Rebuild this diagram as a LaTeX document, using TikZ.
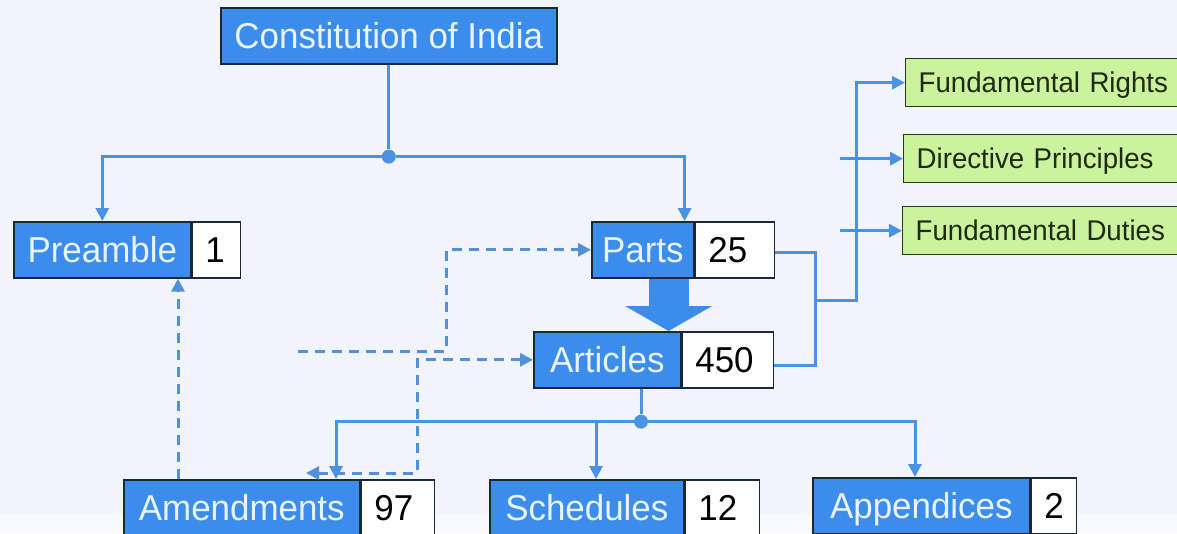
\documentclass[tikz,border=0pt]{standalone}
\usepackage{fontspec}
\newfontfamily\diagfont[FakeStretch=0.97]{Liberation Sans}
\usetikzlibrary{arrows.meta,positioning,calc}
\definecolor{nodeblue}{HTML}{3C8DEB}
\definecolor{nodeedge}{HTML}{1B2838}
\definecolor{lbltext}{HTML}{E8F3FF}
\definecolor{linkblue}{HTML}{4A92E4}
\definecolor{relblue}{HTML}{5290DA}
\definecolor{leafgreen}{HTML}{CBF29D}
\definecolor{leafedge}{HTML}{2A3818}
\definecolor{leaftext}{HTML}{1E2A14}
\definecolor{paper}{HTML}{F1F5FB}

\begin{document}
\begin{tikzpicture}[
  x=1pt, y=-1pt,
  lbl/.style={draw=nodeedge, fill=nodeblue, text=lbltext, line width=1.6pt,
              font=\diagfont\fontsize{36}{40}\selectfont, inner sep=0pt,
              minimum width=#1, minimum height=56pt, anchor=north west,
              text height=27pt, text depth=1pt},
  num/.style={draw=nodeedge, fill=white, text=black, line width=1.6pt,
              font=\diagfont\fontsize{36}{40}\selectfont, inner xsep=13pt,
              inner ysep=0pt, text width=#1, align=left,
              minimum height=56pt, text height=27pt, text depth=1pt},
  leaf/.style={draw=leafedge, fill=leafgreen, text=leaftext, line width=1.4pt,
               font=\diagfont\fontsize{28.5}{31}\selectfont, inner xsep=13pt,
               inner ysep=0pt, text width=250pt, align=left,
               minimum height=48pt, anchor=north west,
               text height=21pt, text depth=1pt},
  dot/.style={circle, fill=linkblue, inner sep=0pt, minimum size=14pt},
  link/.style={linkblue, line width=3pt},
  flow/.style={link, -{Triangle[length=13pt,width=13pt]}},
  rel/.style={relblue, line width=3pt, dash pattern=on 10pt off 7pt},
  bigflow/.style={nodeblue, line width=40pt, -{Triangle[length=25pt,width=86pt]}},
]
\useasboundingbox (0,0) rectangle (1177,533);
\clip (0,0) rectangle (1177,533);
\fill[paper] (0,0) rectangle (1177,533);
\fill[paper!55!white] (0,514) rectangle (1177,533);

% --- boxes
\node[lbl=336pt] (const) at (220,7) {Constitution of India};

\node[lbl=177pt] (pre) at (13,221) {Preamble};
\node[num=22pt, right=0pt of pre] (prenum) {1};

\node[lbl=102pt] (parts) at (591,221) {Parts};
\node[num=53pt, right=0pt of parts] (partsnum) {25};

\node[lbl=147pt] (art) at (533,331) {Articles};
\node[num=65pt, right=0pt of art] (artnum) {450};

\node[lbl=236pt] (amend) at (123,479) {Amendments};
\node[num=47pt, right=0pt of amend] (amendnum) {97};

\node[lbl=194pt] (sched) at (489,479) {Schedules};
\node[num=48pt, right=0pt of sched] (schednum) {12};

\node[lbl=217pt] (appx) at (812,477) {Appendices};
\node[num=19pt, right=0pt of appx] (appxnum) {2};

\node[leaf] (fr) at (905,58) {Fundamental Rights};
\node[leaf] (dp) at (903,134) {Directive Principles};
\node[leaf] (fd) at (902,206) {Fundamental Duties};

% --- tree links
\node[dot] (j1) at ($(const.south)+(0,92)$) {};
\draw[link] (const.south) -- (j1);
\draw[flow] (j1) -| (pre.north);
\draw[flow] (j1) -| ([xshift=-10pt]parts.north east);

\node[dot] (j2) at ($(art.south west)+(108,33)$) {};
\draw[link] (j2 |- art.south) -- (j2);
\draw[flow] (j2) -| ([xshift=213pt]amend.north west);
\draw[flow] (j2) -| ([xshift=107pt]sched.north west);
\draw[flow] (j2) -| ([xshift=103pt]appx.north west);

\draw[bigflow] ([xshift=-26pt]parts.south east) -- ([xshift=-26pt]parts.south east |- art.north);

% --- parts and articles feed the three leaves
\coordinate (bus) at (815,300);
\coordinate (riser) at (856,300);
\draw[link] ([yshift=-3pt]partsnum.east) -| (bus);
\draw[link] ([yshift=-6pt]artnum.east) -| (bus);
\draw[flow] (bus) -- (riser) |- (fr.west);
\draw[flow] ([xshift=-63pt]dp.west) -- (dp.west);
\draw[flow] ([xshift=-62pt]fd.west) -- (fd.west);

% --- dashed relations
\draw[rel, -{Triangle[length=13pt,width=13pt]}]
  ([xshift=55pt]amend.north west) coordinate (upA) -- (upA |- pre.south);

\coordinate (relA) at (298,351);
\coordinate (relB) at (446,300);
\draw[rel, -{Triangle[length=13pt,width=13pt]}] (relA) -| (relB) |- (parts.west);

\coordinate (relC) at (306,473);
\coordinate (relD) at (417,420);
\draw[rel, {Triangle[length=13pt,width=13pt]}-{Triangle[length=13pt,width=13pt]}]
  (relC) -| (relD) |- (art.west);
\end{tikzpicture}
\end{document}
